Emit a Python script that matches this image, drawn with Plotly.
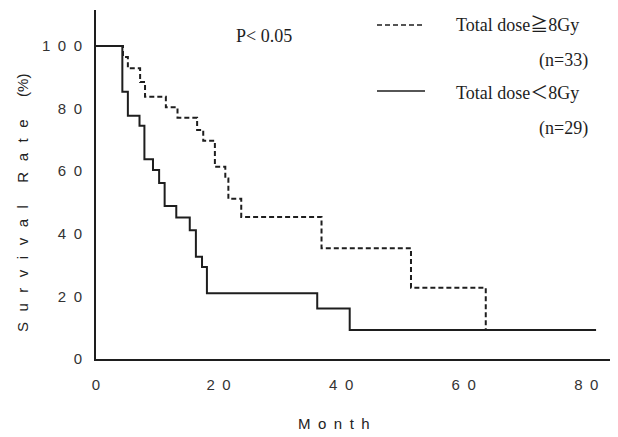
import plotly.graph_objects as go

# ---- data ----
months_ge8 = [0, 4.4, 5.2, 7.2, 8.0, 11.4, 13.3, 16.5, 17.5, 19.4, 21.1, 21.6, 23.7, 36.8, 51.4, 63.6]
surv_ge8 = [100, 96.5, 92.9, 88.5, 83.8, 80.4, 77.1, 73.2, 69.7, 61.4, 57.7, 51.2, 45.4, 35.4, 22.8, 9.5]

months_lt8 = [0, 4.3, 5.2, 7.1, 7.9, 9.3, 10.3, 11.2, 13.1, 15.3, 16.3, 17.3, 18.1, 36.1, 41.4, 81.6]
surv_lt8 = [100, 85.4, 77.7, 74.5, 63.8, 60.4, 56.2, 48.9, 45.2, 41.1, 32.7, 29.4, 21.0, 16.1, 9.3, 9.3]

x_tickvals = [0, 20, 40, 60, 80]
x_ticktext = ["0", "2\u20020", "4\u20020", "6\u20020", "8\u20020"]
y_tickvals = [0, 20, 40, 60, 80, 100]
y_ticktext = ["0", "2\u20020", "4\u20020", "6\u20020", "8\u20020", "1\u20020\u20020"]

label_ge8 = "Total dose\u22678Gy"
label_lt8 = "Total dose\uff1c8Gy"
n_ge8 = "(n=33)"
n_lt8 = "(n=29)"
p_text = "P< 0.05"

X_RANGE = [0, 84.2]
Y_RANGE = [0, 111.5]

INK = "#1e1e1e"
SERIF = "Liberation Serif, Times New Roman, Noto Sans CJK JP, serif"
SANS = "Liberation Sans, Arial, sans-serif"

# the page body adds an 8px offset; size the figure so it ends at the window edge
OFF = 8
W, H = 618 - OFF, 437 - OFF
L, R, T, B = 96 - OFF, 6, 10 - OFF, 437 - 359
PW, PH = W - L - R, H - T - B


def px(xp):
    return (xp - OFF - L) / PW


def py(yp):
    return (H - B - (yp - OFF)) / PH


fig = go.Figure()
fig.add_trace(go.Scatter(
    x=months_ge8, y=surv_ge8, mode="lines", line_shape="hv",
    line=dict(color=INK, width=2, dash="5px,3px"), name=label_ge8, showlegend=False))
fig.add_trace(go.Scatter(
    x=months_lt8, y=surv_lt8, mode="lines", line_shape="hv",
    line=dict(color=INK, width=2), name=label_lt8, showlegend=False))

fig.update_layout(
    width=W, height=H,
    margin=dict(l=L, r=R, t=T, b=B),
    paper_bgcolor="white", plot_bgcolor="white",
    xaxis=dict(range=X_RANGE, tickvals=x_tickvals, ticktext=x_ticktext,
               ticks="outside", ticklen=9, tickcolor="rgba(0,0,0,0)",
               ticklabelstandoff=2,
               showline=True, linecolor=INK, linewidth=2, showgrid=False, zeroline=False,
               tickfont=dict(family=SANS, size=15, color="#333")),
    yaxis=dict(range=Y_RANGE, tickvals=y_tickvals, ticktext=y_ticktext,
               ticks="outside", ticklen=9, tickcolor="rgba(0,0,0,0)",
               showline=True, linecolor=INK, linewidth=2, showgrid=False, zeroline=False,
               tickfont=dict(family=SANS, size=15, color="#333")),
    xaxis2=dict(range=X_RANGE, overlaying="x", anchor="y2", tickvals=x_tickvals[1:],
                ticks="outside", ticklen=9, tickwidth=1.5, tickcolor=INK,
                showticklabels=False, showline=False, showgrid=False, zeroline=False),
    yaxis2=dict(range=Y_RANGE, overlaying="y", anchor="x2", side="left", tickvals=y_tickvals[1:],
                ticks="outside", ticklen=9, tickwidth=1.5, tickcolor=INK,
                showticklabels=False, showline=False, showgrid=False, zeroline=False),
    showlegend=False,
)

# legend samples
fig.add_shape(type="line", xref="paper", yref="paper", x0=px(377), x1=px(425), y0=py(25), y1=py(25),
              line=dict(color=INK, width=1.5, dash="5px,3px"))
fig.add_shape(type="line", xref="paper", yref="paper", x0=px(377), x1=px(425), y0=py(91), y1=py(91),
              line=dict(color=INK, width=1.5))


def ann(text, xp, yp, xanchor="left", font=SERIF, size=18, angle=0, color=INK):
    fig.add_annotation(text=text, xref="paper", yref="paper", x=px(xp), y=py(yp),
                       xanchor=xanchor, yanchor="middle", showarrow=False, textangle=angle,
                       font=dict(family=font, size=size, color=color))


ann(label_ge8, 454, 25)
ann(n_ge8, 590, 60, xanchor="right")
ann(label_lt8, 454, 93)
ann(n_lt8, 590, 128, xanchor="right")
ann(p_text, 234, 36)

ann("M\u2002o\u2002n\u2002t\u2002h", 334, 423, xanchor="center", font=SANS, size=15, color="#222")
g = "\u2002\u2009"
ytitle = g.join("Survival") + "\u2002\u2002\u2002" + g.join("Rate") + "\u2002\u2002\u2002(%)"
ann(ytitle, 22, 203, xanchor="center", font=SANS, size=15, angle=-90, color="#222")

fig.write_html("out.html")
